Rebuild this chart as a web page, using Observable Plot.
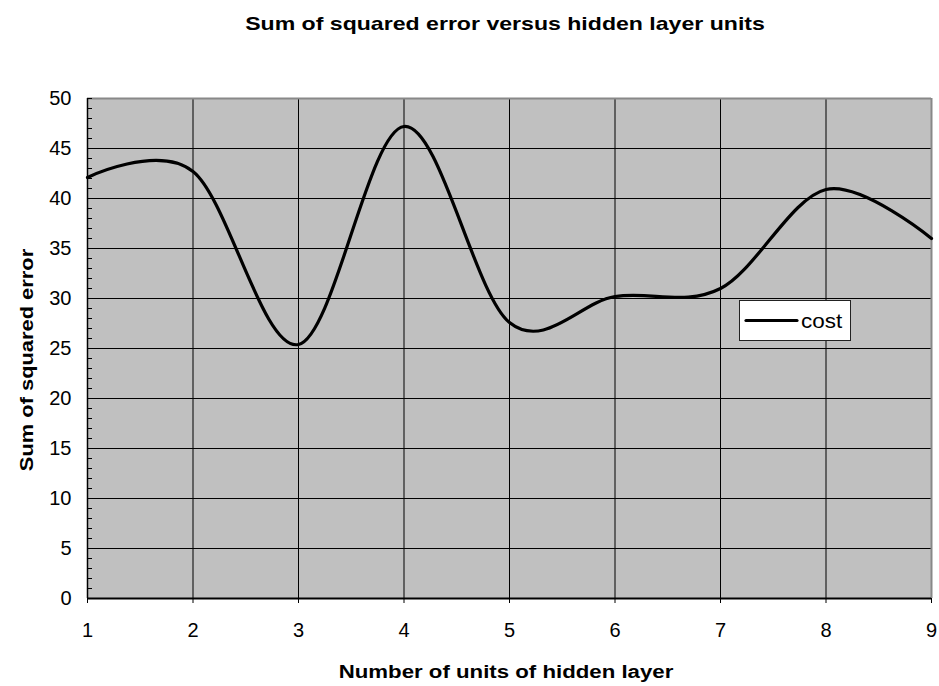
<!DOCTYPE html>
<html>
<head>
<meta charset="utf-8">
<script src="https://cdn.jsdelivr.net/npm/d3@7"></script>
<script src="https://cdn.jsdelivr.net/npm/@observablehq/plot@0.6"></script>
<style>
  body { margin: 0; background: #fff; }
  #wrap { position: relative; width: 939px; height: 686px; }
</style>
</head>
<body>
<div id="wrap"></div>
<script>
// ---- data ----
const units = [1, 2, 3, 4, 5, 6, 7, 8, 9];
const cost = [42.1, 42.7, 25.4, 47.2, 27.6, 30.2, 31.0, 40.9, 36.0];
const xTicks = [1, 2, 3, 4, 5, 6, 7, 8, 9];
const yTicks = [0, 5, 10, 15, 20, 25, 30, 35, 40, 45, 50];
const yMinor = d3.range(0, 51, 1);
const seriesName = "cost";
const titleText = "Sum of squared error versus hidden layer units";
const xLabel = "Number of units of hidden layer";
const yLabel = "Sum of squared error";

const data = units.map((u, i) => ({units: u, cost: cost[i]}));

const font = "'Liberation Sans', Arial, sans-serif";

const plot = Plot.plot({
  width: 939,
  height: 686,
  marginLeft: 87,
  marginRight: 8,
  marginTop: 98,
  marginBottom: 88,
  style: {fontFamily: font, fontSize: "20px", color: "#000", background: "#fff", overflow: "visible"},
  x: {domain: [1, 9]},
  y: {domain: [0, 50]},
  marks: [
    Plot.frame({fill: "#c0c0c0", stroke: "none"}),
    Plot.gridX(xTicks, {stroke: "#000", strokeOpacity: 1, strokeWidth: 1}),
    Plot.gridY(yTicks, {stroke: "#000", strokeOpacity: 1, strokeWidth: 1}),
    Plot.ruleY([50], {stroke: "#888", strokeWidth: 2}),
    Plot.ruleX([9], {stroke: "#888", strokeWidth: 2}),
    Plot.axisY(yMinor, {tickSize: -5, tickFormat: () => "", label: null, stroke: "#000"}),
    Plot.axisY(yTicks, {tickSize: 0, tickPadding: 16, fontSize: 20, label: null}),
    Plot.axisX(xTicks, {tickSize: 5, tickPadding: 19, fontSize: 20, label: null, stroke: "#000"}),
    Plot.ruleX([1], {stroke: "#000", strokeWidth: 1.5}),
    Plot.ruleY([0], {stroke: "#000", strokeWidth: 2}),
    Plot.line(data, {x: "units", y: "cost", curve: "cardinal", stroke: "#000", strokeWidth: 3.2, strokeLinejoin: "round"})
  ]
});

document.getElementById("wrap").appendChild(plot);

// titles and legend as real text
const svg = d3.select(plot);
function label(txt, tx, ty, rot, sx, size) {
  svg.append("text")
    .attr("transform", `translate(${tx},${ty}) rotate(${rot}) scale(${sx},1)`)
    .attr("text-anchor", "middle")
    .attr("font-family", font).attr("font-weight", "bold").attr("font-size", size)
    .attr("fill", "#000")
    .text(txt);
}
label(titleText, 505, 30, 0, 1.32, 17.5);
label(xLabel, 506, 678, 0, 1.27, 17.5);
label(yLabel, 33, 360, -90, 1.25, 17.5);

const lg = svg.append("g");
lg.append("rect").attr("x", 739.5).attr("y", 300.5).attr("width", 111).attr("height", 40)
  .attr("fill", "#fff").attr("stroke", "#222").attr("stroke-width", 1);
lg.append("line").attr("x1", 746).attr("x2", 797).attr("y1", 320.5).attr("y2", 320.5)
  .attr("stroke", "#000").attr("stroke-width", 3.2).attr("stroke-linecap", "round");
lg.append("text")
  .attr("transform", "translate(801,327.5) scale(1.07,1)")
  .attr("text-anchor", "start")
  .attr("font-family", font).attr("font-size", 21)
  .attr("fill", "#000").text(seriesName);
</script>
</body>
</html>
